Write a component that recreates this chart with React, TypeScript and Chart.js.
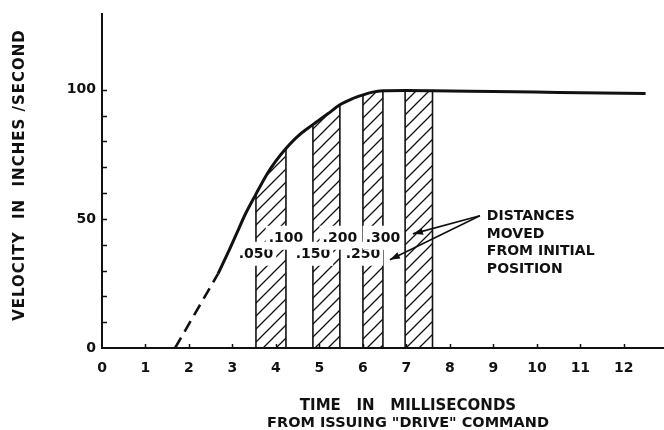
import React, { useEffect, useRef } from 'react';
import { Chart, registerables } from 'chart.js';

Chart.register(...registerables);

// ---- data ----
const curveTime = [2.67, 2.9, 3.1, 3.3, 3.54, 3.8, 4.0, 4.23, 4.5, 4.85, 5.2, 5.47, 5.75, 6.0, 6.2, 6.46, 6.97, 7.6, 9.0, 10.5, 12.5];
const curveVelocity = [28.8, 37, 44.5, 52, 59.6, 67.5, 72.5, 77.3, 82, 86.5, 90.8, 94.2, 96.5, 98, 99, 99.6, 99.7, 99.6, 99.3, 99, 98.6];
const dashedTime = [1.68, 2.67];
const dashedVelocity = [0, 28.8];

const barStart = [3.54, 4.85, 6.0, 6.97];
const barEnd = [4.23, 5.47, 6.46, 7.6];

const boundaryTime = [3.54, 4.23, 4.85, 5.47, 6.0, 6.46];
const boundaryLabels = ['.050', '.100', '.150', '.200', '.250', '.300'];
const boundaryLabelVelocity = [36.5, 42.7, 36.5, 42.7, 36.5, 42.7];

const xTickValues = [0, 1, 2, 3, 4, 5, 6, 7, 8, 9, 10, 11, 12];
const xTickLabels = ['0', '1', '2', '3', '4', '5', '6', '7', '8', '9', '10', '11', '12'];
const yTickValues = [0, 10, 20, 30, 40, 50, 60, 70, 80, 90, 100];
const yTickLabels = ['0', '', '', '', '', '50', '', '', '', '', '100'];

const noteLines = ['DISTANCES', 'MOVED', 'FROM INITIAL', 'POSITION'];
const noteTime = 8.85;
const noteVelocity = 49.6;
const arrowFromTime = 8.69;
const arrowFromVelocity = 51.2;
const arrowToTime = [7.15, 6.62];
const arrowToVelocity = [44.2, 34.2];

const yTitle = 'VELOCITY  IN  INCHES /SECOND';
const xTitle1 = 'TIME   IN   MILLISECONDS';
const xTitle2 = 'FROM ISSUING "DRIVE" COMMAND';

const INK = '#111';
const FONT = '"DejaVu Sans", sans-serif';

const overlayPlugin = {
  id: 'overlay',
  afterDatasetsDraw(chart: any) {
    const ctx = chart.ctx as CanvasRenderingContext2D;
    const xs = chart.scales.x;
    const ys = chart.scales.y;
    const area = chart.chartArea;
    ctx.save();
    ctx.strokeStyle = INK;
    ctx.fillStyle = INK;

    // inward tick marks
    ctx.lineWidth = 1.5;
    ctx.beginPath();
    yTickValues.forEach((v) => {
      if (v === 0) return;
      const py = Math.round(ys.getPixelForValue(v)) + 0.5;
      ctx.moveTo(area.left, py);
      ctx.lineTo(area.left + 5, py);
    });
    xTickValues.forEach((v) => {
      if (v === 0) return;
      const px = Math.round(xs.getPixelForValue(v)) + 0.5;
      ctx.moveTo(px, area.bottom);
      ctx.lineTo(px, area.bottom - 4);
    });
    ctx.stroke();

    // boundary labels with white boxes
    ctx.font = `bold 14px ${FONT}`;
    ctx.textAlign = 'center';
    ctx.textBaseline = 'middle';
    boundaryTime.forEach((t, i) => {
      const px = xs.getPixelForValue(t);
      const py = ys.getPixelForValue(boundaryLabelVelocity[i]);
      const w = ctx.measureText(boundaryLabels[i]).width;
      ctx.fillStyle = '#fff';
      ctx.fillRect(px - w / 2 - 3, py - 12, w + 6, 24);
      ctx.fillStyle = INK;
      ctx.fillText(boundaryLabels[i], px, py + 1);
    });

    // arrows
    const ax = xs.getPixelForValue(arrowFromTime);
    const ay = ys.getPixelForValue(arrowFromVelocity);
    ctx.lineWidth = 1.6;
    arrowToTime.forEach((t, i) => {
      const tx = xs.getPixelForValue(t);
      const ty = ys.getPixelForValue(arrowToVelocity[i]);
      ctx.beginPath();
      ctx.moveTo(ax, ay);
      ctx.lineTo(tx, ty);
      ctx.stroke();
      const ang = Math.atan2(ty - ay, tx - ax);
      const L = 10;
      const W = 3.5;
      ctx.beginPath();
      ctx.moveTo(tx, ty);
      ctx.lineTo(tx - L * Math.cos(ang) + W * Math.sin(ang), ty - L * Math.sin(ang) - W * Math.cos(ang));
      ctx.lineTo(tx - L * Math.cos(ang) - W * Math.sin(ang), ty - L * Math.sin(ang) + W * Math.cos(ang));
      ctx.closePath();
      ctx.fill();
    });

    // note text
    ctx.font = `bold 14px ${FONT}`;
    ctx.textAlign = 'left';
    ctx.textBaseline = 'alphabetic';
    const nx = xs.getPixelForValue(noteTime);
    const ny = ys.getPixelForValue(noteVelocity);
    noteLines.forEach((line, i) => {
      ctx.fillText(line, nx, ny + i * 17.7);
    });

    // axis titles
    (ctx as any).letterSpacing = '1px';
    ctx.font = `bold 15px ${FONT}`;
    ctx.textAlign = 'center';
    ctx.save();
    ctx.translate(24, 175);
    ctx.rotate(-Math.PI / 2);
    ctx.textBaseline = 'alphabetic';
    ctx.fillText(yTitle, 0, 0);
    ctx.restore();
    (ctx as any).letterSpacing = '0px';
    ctx.font = `bold 15px ${FONT}`;
    ctx.fillText(xTitle1, 408, 410);
    ctx.font = `bold 14.5px ${FONT}`;
    ctx.fillText(xTitle2, 408, 427);

    ctx.restore();
  },
};

const App = () => {
  const ref = useRef<HTMLCanvasElement>(null);

  useEffect(() => {
    const canvas = ref.current;
    if (!canvas) return;

    const pc = document.createElement('canvas');
    pc.width = 13;
    pc.height = 13;
    const p = pc.getContext('2d')!;
    p.strokeStyle = INK;
    p.lineWidth = 1.3;
    p.beginPath();
    p.moveTo(-1, 14);
    p.lineTo(14, -1);
    p.moveTo(-1, 1);
    p.lineTo(1, -1);
    p.moveTo(12, 14);
    p.lineTo(14, 12);
    p.stroke();
    const pattern = canvas.getContext('2d')!.createPattern(pc, 'repeat');

    const curvePts = curveTime.map((t, i) => ({ x: t, y: curveVelocity[i] }));
    const dashedPts = dashedTime.map((t, i) => ({ x: t, y: dashedVelocity[i] }));

    const barSets = barStart.map((s, i) => {
      const e = barEnd[i];
      const top = curvePts.filter((pt) => pt.x >= s && pt.x <= e);
      return {
        type: 'line' as const,
        data: [{ x: s, y: 0 }, ...top, { x: e, y: 0 }],
        borderColor: INK,
        borderWidth: 1.6,
        backgroundColor: pattern,
        fill: 'origin',
        pointRadius: 0,
        tension: 0,
        order: 2,
      };
    });

    const chart = new Chart(canvas, {
      type: 'line',
      data: {
        datasets: [
          {
            data: curvePts,
            borderColor: INK,
            borderWidth: 3,
            pointRadius: 0,
            cubicInterpolationMode: 'monotone',
            fill: false,
            order: 0,
          },
          {
            data: dashedPts,
            borderColor: INK,
            borderWidth: 2.6,
            borderDash: [12, 7],
            pointRadius: 0,
            fill: false,
            order: 0,
          },
          ...barSets,
        ] as any,
      },
      options: {
        responsive: false,
        animation: false,
        events: [],
        layout: { padding: { left: 0, right: 1, top: 12, bottom: 0 } },
        plugins: {
          legend: { display: false },
          tooltip: { enabled: false },
          title: { display: false },
        },
        scales: {
          x: {
            type: 'linear',
            min: 0,
            max: 12.9,
            afterBuildTicks: (s: any) => {
              s.ticks = xTickValues.map((v) => ({ value: v }));
            },
            afterFit: (s: any) => {
              s.height = 82;
            },
            grid: { display: true, drawOnChartArea: false, drawTicks: false },
            border: { display: true, color: INK, width: 2 },
            ticks: {
              color: INK,
              padding: 12,
              maxRotation: 0,
              autoSkip: false,
              font: { family: FONT, size: 14, weight: 'bold' },
              callback: (_v: any, i: number) => xTickLabels[i],
            },
          },
          y: {
            type: 'linear',
            min: 0,
            max: 129.2,
            afterBuildTicks: (s: any) => {
              s.ticks = yTickValues.map((v) => ({ value: v }));
            },
            afterFit: (s: any) => {
              s.width = 102;
            },
            grid: { display: true, drawOnChartArea: false, drawTicks: false },
            border: { display: true, color: INK, width: 2 },
            ticks: {
              color: INK,
              padding: 6,
              autoSkip: false,
              font: { family: FONT, size: 14, weight: 'bold' },
              callback: (_v: any, i: number) => yTickLabels[i],
            },
          },
        },
      } as any,
      plugins: [overlayPlugin],
    });

    return () => chart.destroy();
  }, []);

  return (
    <div style={{ position: 'fixed', left: 0, top: 0, width: 664, height: 430, background: '#fff' }}>
      <canvas ref={ref} width={664} height={430} style={{ display: 'block', width: 664, height: 430 }} />
    </div>
  );
};

export default App;
